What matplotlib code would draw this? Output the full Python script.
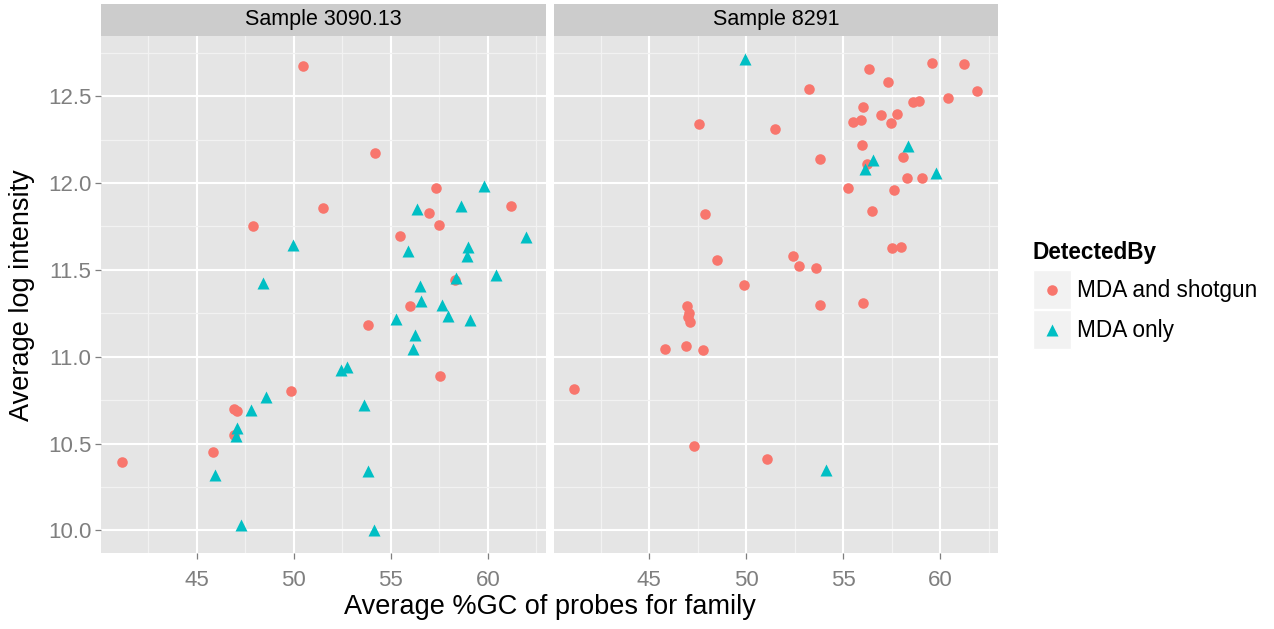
import numpy as np
import matplotlib.pyplot as plt
from matplotlib.patches import Rectangle
from matplotlib.ticker import MultipleLocator

plt.rcParams['font.family'] = ['Liberation Sans', 'DejaVu Sans']

# --- data: (average %GC, average log intensity) per family ---
panels = ["Sample 3090.13", "Sample 8291"]
groups = ["MDA and shotgun", "MDA only"]

s1_shot_gc = [50.48, 51.5, 47.89, 54.16, 57.32, 61.22, 56.97, 57.49, 55.48, 58.32,
              56.0, 53.80, 57.53, 49.87, 46.94, 47.08, 46.91, 45.82, 41.12]
s1_shot_int = [12.673, 11.856, 11.75, 12.173, 11.971, 11.866, 11.827, 11.756, 11.694, 11.442,
               11.289, 11.18, 10.891, 10.80, 10.70, 10.689, 10.551, 10.449, 10.396]
s1_mda_gc = [49.95, 48.40, 59.79, 56.34, 58.64, 61.96, 55.90, 58.97, 58.94, 58.37,
             60.43, 56.53, 56.55, 57.65, 57.97, 59.10, 55.26, 56.24, 56.12, 52.73,
             52.44, 53.63, 53.80, 54.12, 48.56, 47.77, 47.08, 47.03, 45.93, 47.30]
s1_mda_int = [11.644, 11.423, 11.984, 11.852, 11.866, 11.689, 11.606, 11.629, 11.577, 11.452,
              11.468, 11.408, 11.318, 11.30, 11.232, 11.213, 11.217, 11.127, 11.044, 10.94,
              10.921, 10.72, 10.342, 10.005, 10.768, 10.695, 10.59, 10.541, 10.319, 10.033]

s2_shot_gc = [47.55, 51.46, 47.86, 48.51, 49.87, 59.57, 61.21, 56.33, 57.30, 53.23,
              61.91, 60.41, 58.61, 58.92, 56.0, 55.48, 55.90, 56.94, 57.77, 57.47,
              55.98, 53.78, 58.06, 56.21, 58.30, 59.06, 55.24, 57.61, 56.49, 57.51,
              57.96, 52.42, 52.73, 53.59, 46.95, 47.05, 47.0, 47.07, 45.81, 46.91,
              47.75, 41.10, 47.29, 51.05, 53.78, 56.02]
s2_shot_int = [12.341, 12.308, 11.819, 11.554, 11.41, 12.692, 12.686, 12.657, 12.582, 12.542,
               12.53, 12.49, 12.467, 12.473, 12.438, 12.352, 12.364, 12.392, 12.398, 12.346,
               12.22, 12.141, 12.151, 12.11, 12.026, 12.03, 11.972, 11.961, 11.836, 11.623,
               11.631, 11.579, 11.522, 11.508, 11.289, 11.251, 11.228, 11.201, 11.046, 11.063,
               11.04, 10.816, 10.484, 10.413, 11.30, 11.309]
s2_mda_gc = [49.93, 58.35, 56.52, 56.10, 59.78, 54.11]
s2_mda_int = [12.711, 12.212, 12.135, 12.082, 12.055, 10.35]

data = {
    panels[0]: [(s1_shot_gc, s1_shot_int), (s1_mda_gc, s1_mda_int)],
    panels[1]: [(s2_shot_gc, s2_shot_int), (s2_mda_gc, s2_mda_int)],
}

colors = ["#F8766D", "#00BFC4"]
markers = ["o", "^"]
msizes = [7.6, 9.2]

W, H = 1274, 629


def px_axes(fig, x0, y0, x1, y1):
    return fig.add_axes([x0 / W, 1 - y1 / H, (x1 - x0) / W, (y1 - y0) / H])


# shared scales with ggplot-like 5% expansion
all_x = np.concatenate([np.array(p[0]) for v in data.values() for p in v])
all_y = np.concatenate([np.array(p[1]) for v in data.values() for p in v])
xr = all_x.max() - all_x.min()
yr = all_y.max() - all_y.min()
xlim = (all_x.min() - 0.05 * xr, all_x.max() + 0.05 * xr)
ylim = (all_y.min() - 0.05 * yr, all_y.max() + 0.05 * yr)

fig = plt.figure(figsize=(W / 100, H / 100), dpi=100)

lefts = [(101, 546), (553.5, 998.5)]
for i, name in enumerate(panels):
    x0, x1 = lefts[i]
    ax = px_axes(fig, x0, 36, x1, 553)
    ax.set_facecolor("#E5E5E5")
    ax.set_xlim(*xlim)
    ax.set_ylim(*ylim)
    ax.xaxis.set_major_locator(MultipleLocator(5))
    ax.xaxis.set_minor_locator(MultipleLocator(2.5))
    ax.yaxis.set_major_locator(MultipleLocator(0.5))
    ax.yaxis.set_minor_locator(MultipleLocator(0.25))
    ax.grid(which="minor", color="#F2F2F2", lw=0.9)
    ax.grid(which="major", color="white", lw=1.5)
    ax.set_axisbelow(True)
    for s in ax.spines.values():
        s.set_visible(False)
    ax.tick_params(which="major", length=4, width=0.9, color="#7F7F7F",
                   labelcolor="#7F7F7F", labelsize=16, pad=3)
    ax.tick_params(axis="x", which="major", pad=8)
    ax.tick_params(which="minor", length=0)
    ax.set_xticks([45, 50, 55, 60])
    ax.set_xticklabels(["45", "50", "55", "60"])
    if i == 0:
        ax.set_yticks([10.0, 10.5, 11.0, 11.5, 12.0, 12.5])
        ax.set_yticklabels(["10.0", "10.5", "11.0", "11.5", "12.0", "12.5"])
    else:
        ax.tick_params(axis="y", which="both", left=False, labelleft=False)
    for (gx, gy), c, m, ms in zip(data[name], colors, markers, msizes):
        ax.plot(gx, gy, linestyle="none", marker=m, color=c, ms=ms, mec="none")

    st = px_axes(fig, x0, 4, x1, 36)
    st.set_facecolor("#CCCCCC")
    st.set_xticks([])
    st.set_yticks([])
    for s in st.spines.values():
        s.set_visible(False)
    st.text(0.5, 0.5, name, ha="center", va="center", fontsize=15.5, transform=st.transAxes)

fig.text(549.5 / W, 1 - 607 / H, "Average %GC of probes for family", ha="center",
         va="center", fontsize=19.5)
fig.text(22 / W, 1 - 295 / H, "Average log intensity", ha="center", va="center",
         rotation=90, fontsize=19.5)

# legend
lg = px_axes(fig, 1000, 230, 1274, 360)
lg.set_xlim(1000, 1274)
lg.set_ylim(360, 230)
lg.axis("off")
lg.text(1032, 252, "DetectedBy", ha="left", va="center", fontsize=16.3, fontweight="bold")
for k, (lab, c, m, ms) in enumerate(zip(groups, colors, markers, msizes)):
    top = 270 + 40 * k
    lg.add_patch(Rectangle((1033, top), 38, 39, facecolor="#F2F2F2", edgecolor="white", lw=1))
    lg.plot([1052], [top + 19.5], marker=m, color=c, ms=ms, mec="none", linestyle="none")
    lg.text(1077, top + 20, lab, ha="left", va="center", fontsize=16.3)

fig.savefig("out.png", dpi=100)
